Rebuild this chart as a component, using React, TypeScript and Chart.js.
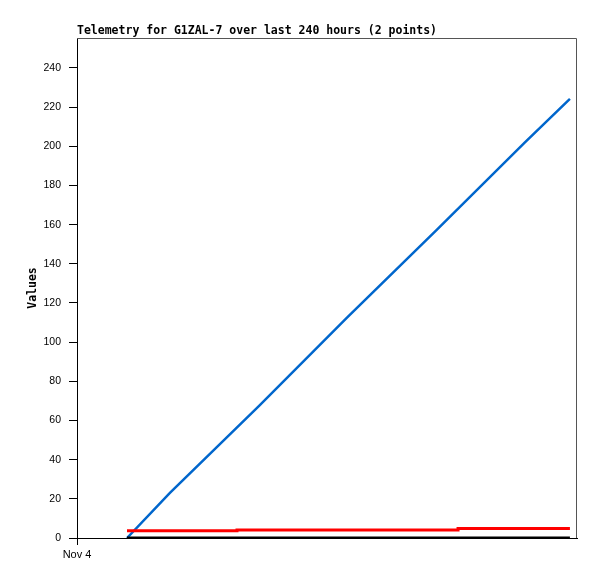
import React, { useEffect, useRef } from "react";
import { Chart, registerables } from "chart.js";

Chart.register(...registerables);

const TITLE = "Telemetry for G1ZAL-7 over last 240 hours (2 points)";
const Y_TITLE = "Values";
const X_TICK_LABEL = "Nov 4";

const yTickValues = [0, 20, 40, 60, 80, 100, 120, 140, 160, 180, 200, 220, 240];
const xTickValues = [0];

const blueHours = [24, 44.6, 87.4, 129.6, 172.3, 215, 236.6];
const blueValues = [0, 23, 67.5, 112.5, 157, 202, 224.2];

const redHours = [24, 76.8, 182.9, 236.6];
const redValues = [3.7, 4.1, 4.8, 4.8];

const blackHours = [24, 236.6];
const blackValues = [0, 0];

const toPts = (xs: number[], ys: number[]) => xs.map((x, i) => ({ x, y: ys[i] }));

const decorPlugin = {
  id: "decor",
  afterDraw(chart: any) {
    const { ctx, chartArea } = chart;
    ctx.save();
    ctx.strokeStyle = "#555555";
    ctx.lineWidth = 1;
    ctx.beginPath();
    ctx.moveTo(chartArea.left, chartArea.top + 0.5);
    ctx.lineTo(chartArea.right - 0.5, chartArea.top + 0.5);
    ctx.lineTo(chartArea.right - 0.5, chartArea.bottom);
    ctx.stroke();

    ctx.fillStyle = "#000";
    ctx.font = "bold 11.5px 'DejaVu Sans Mono'";
    ctx.textAlign = "left";
    ctx.textBaseline = "alphabetic";
    ctx.fillText(TITLE, chartArea.left, 34);

    ctx.translate(33, (chartArea.top + chartArea.bottom) / 2);
    ctx.rotate(-Math.PI / 2);
    ctx.textAlign = "center";
    ctx.textBaseline = "middle";
    ctx.fillText(Y_TITLE, 0, 0);
    ctx.restore();
  },
};

export default function App() {
  const ref = useRef<HTMLCanvasElement | null>(null);
  useEffect(() => {
    if (!ref.current) return;
    const chart = new Chart(ref.current, {
      type: "line",
      data: {
        datasets: [
          {
            data: toPts(blackHours, blackValues),
            borderColor: "#000000",
            borderWidth: 3,
            pointRadius: 0,
          },
          {
            data: toPts(redHours, redValues),
            borderColor: "#ff0000",
            borderWidth: 3,
            pointRadius: 0,
            stepped: "before",
          },
          {
            data: toPts(blueHours, blueValues),
            borderColor: "#0066cc",
            borderWidth: 2.5,
            pointRadius: 0,
          },
        ],
      },
      plugins: [decorPlugin],
      options: {
        animation: false,
        responsive: false,
        layout: { padding: { top: 38, right: 20, left: 0, bottom: 0 } },
        plugins: {
          legend: { display: false },
          title: { display: false },
          tooltip: { enabled: false },
        },
        scales: {
          x: {
            type: "linear",
            min: 0,
            max: 240,
            afterBuildTicks(s: any) {
              s.ticks = xTickValues.map((v) => ({ value: v }));
            },
            afterFit(s: any) {
              s.height = 41;
            },
            ticks: {
              callback: () => X_TICK_LABEL,
              color: "#000",
              font: { family: "'Liberation Sans'", size: 11 },
              padding: 3,
              maxRotation: 0,
            },
            grid: {
              drawOnChartArea: false,
              drawTicks: true,
              tickLength: 7,
              color: "#000",
            },
            border: { display: true, color: "#000", width: 1 },
          },
          y: {
            type: "linear",
            min: 0,
            max: 255.3,
            afterBuildTicks(s: any) {
              s.ticks = yTickValues.map((v) => ({ value: v }));
            },
            afterFit(s: any) {
              s.width = 77;
            },
            ticks: {
              color: "#000",
              font: { family: "'Liberation Sans'", size: 10.5 },
              padding: 8,
            },
            grid: {
              drawOnChartArea: false,
              drawTicks: true,
              tickLength: 8,
              color: "#000",
            },
            border: { display: true, color: "#000", width: 1 },
          },
        },
      },
    } as any);
    return () => chart.destroy();
  }, []);
  return (
    <div style={{ position: "absolute", left: 0, top: 0, width: 597, height: 579, background: "#fff" }}>
      <canvas ref={ref} width={597} height={579} />
    </div>
  );
}
